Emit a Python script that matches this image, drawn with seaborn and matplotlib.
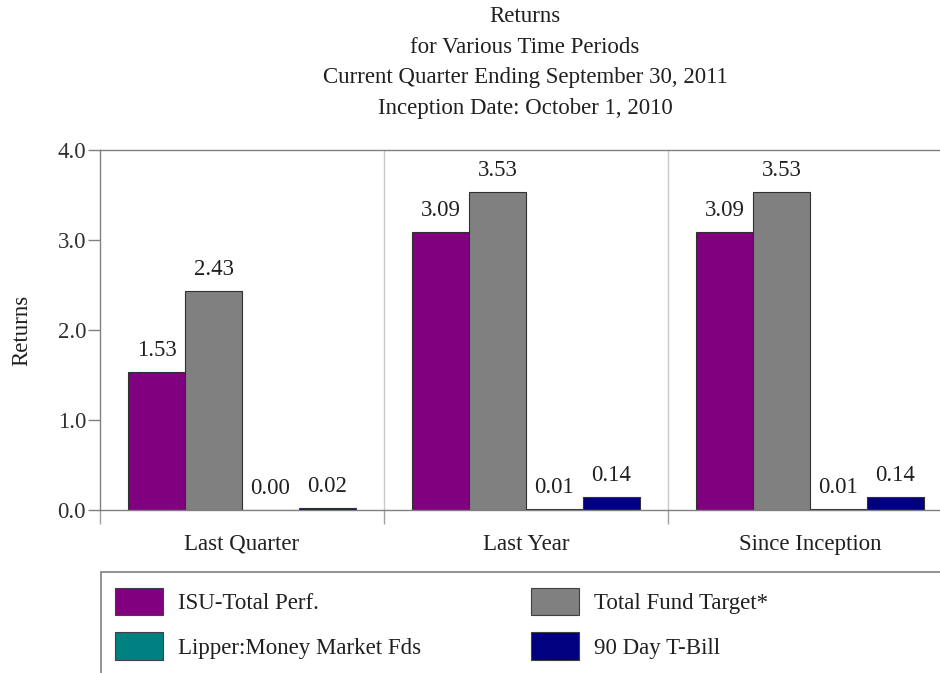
import matplotlib
matplotlib.use('Agg')
import matplotlib.pyplot as plt
import pandas as pd
import seaborn as sns
from matplotlib.patches import Rectangle

periods = ['Last Quarter', 'Last Year', 'Since Inception']
series = ['ISU-Total Perf.', 'Total Fund Target*', 'Lipper:Money Market Fds', '90 Day T-Bill']
isu_total = [1.53, 3.09, 3.09]
fund_target = [2.43, 3.53, 3.53]
lipper_mm = [0.00, 0.01, 0.01]
tbill_90 = [0.02, 0.14, 0.14]
colors = ['#800080', '#808080', '#008080', '#000080']
title_lines = ['Returns', 'for Various Time Periods',
               'Current Quarter Ending September 30, 2011',
               'Inception Date: October 1, 2010']

rows = []
for name, vals in zip(series, [isu_total, fund_target, lipper_mm, tbill_90]):
    for p, v in zip(periods, vals):
        rows.append({'Period': p, 'Series': name, 'Return': v})
df = pd.DataFrame(rows)

sns.set_style('white')
plt.rcParams['font.family'] = ['Liberation Serif', 'DejaVu Serif']
FS = 16.5

fig = plt.figure(figsize=(9.4, 6.73), dpi=100)
ax = fig.add_axes([100 / 940, 1 - 510 / 673, 852 / 940, 360 / 673])

sns.barplot(data=df, x='Period', y='Return', hue='Series', order=periods,
            hue_order=series, palette=colors, width=0.8, saturation=1,
            edgecolor='#303030', linewidth=0.8, legend=False, ax=ax)

for cont in ax.containers:
    ax.bar_label(cont, fmt='%.2f', padding=8, fontsize=FS, color='#202020')

ax.set_xlim(-0.5, 2.5)
ax.set_ylim(0, 4.0)
ax.set_yticks([0, 1, 2, 3, 4])
ax.set_yticklabels(['0.0', '1.0', '2.0', '3.0', '4.0'], fontsize=FS, color='#303030')
ax.tick_params(axis='y', direction='out', length=9, width=1, color='#808080', pad=1, left=True)
ax.tick_params(axis='x', which='major', length=0, labelsize=FS, labelcolor='#202020', pad=17)
ax.set_xticks([-0.5, 0.5, 1.5, 2.5], minor=True)
ax.tick_params(axis='x', which='minor', direction='out', length=10, width=1, color='#a0a0a0', bottom=True)
ax.set_xlabel('')
ax.set_ylabel('Returns', fontsize=FS, color='#202020', labelpad=18)

for x in [0.5, 1.5]:
    ax.axvline(x, color='#c8c8c8', linewidth=1, zorder=0)

for side in ['left', 'bottom', 'top']:
    ax.spines[side].set_visible(True)
    ax.spines[side].set_color('#808080')
    ax.spines[side].set_linewidth(1)
ax.spines['right'].set_visible(False)

for i, line in enumerate(title_lines):
    fig.text(525 / 940, 1 - (17 + i * 30.5) / 673, line, ha='center', va='center',
             fontsize=FS, color='#202020')

# legend box, cut off at the right and bottom like the source
fig.patches.append(Rectangle((101 / 940, -0.05), 0.95, (673 - 572) / 673 + 0.05,
                             transform=fig.transFigure, fill=False,
                             edgecolor='#808080', linewidth=1.2))
handles = [Rectangle((0, 0), 1, 1, facecolor=c, edgecolor='#404040', linewidth=0.8) for c in colors]
order = [0, 2, 1, 3]  # legend fills by column, so reorder to read row-wise
fig.legend([handles[i] for i in order], [series[i] for i in order], ncol=2, loc='upper left',
           bbox_to_anchor=(115 / 940, 1 - 588 / 673), frameon=False,
           fontsize=FS, handlelength=2.1, handleheight=1.45, handletextpad=0.65,
           columnspacing=4.8, labelspacing=0.75, borderpad=0, borderaxespad=0,
           labelcolor='#202020')

fig.savefig('out.png', dpi=100)
